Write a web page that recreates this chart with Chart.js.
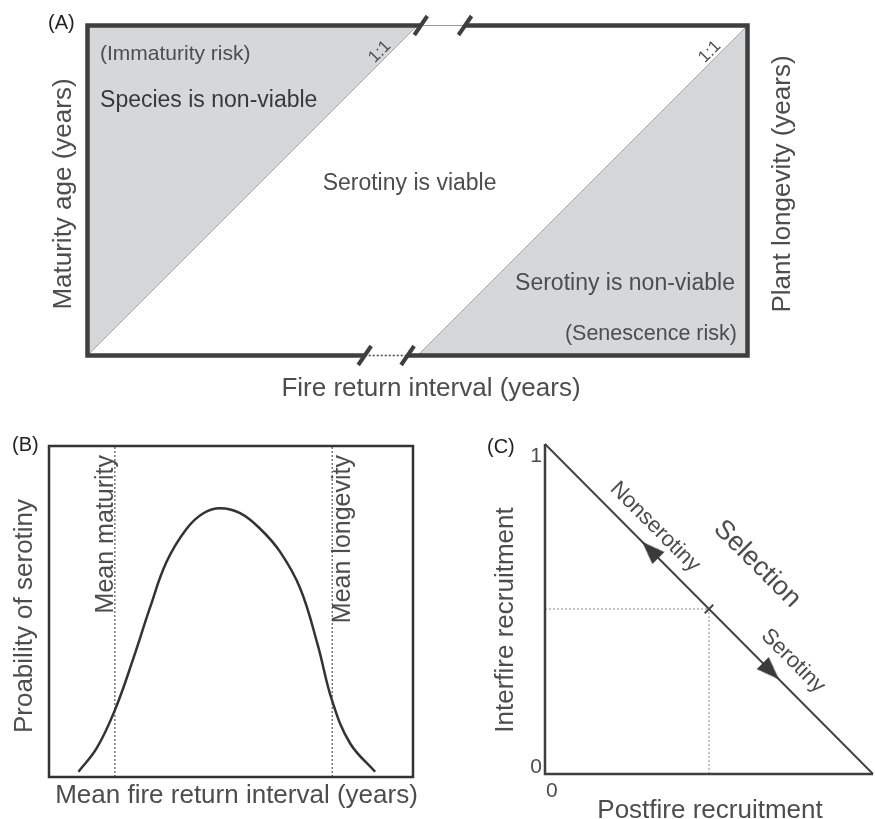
<!DOCTYPE html>
<html>
<head>
<meta charset="utf-8">
<script src="https://cdn.jsdelivr.net/npm/chart.js@4.4.1/dist/chart.umd.min.js"></script>
<style>
  html, body { margin: 0; padding: 0; background: #fff; }
  #wrap { position: relative; width: 875px; height: 819px; }
  #wrap canvas { position: absolute; left: 0; top: 0; }
</style>
</head>
<body>
<div id="wrap">
  <canvas id="panelA" width="875" height="819"></canvas>
  <canvas id="panelB" width="875" height="819"></canvas>
  <canvas id="panelC" width="875" height="819"></canvas>
</div>
<script>
// ---- panel A: viability regions (x = fire interval 0..100, y = age 0..1)
const immaturityX = [0, 50];
const immaturityY = [0, 1];
const senescenceX = [50, 100];
const senescenceY = [0, 1];
const topBreaks = [50.5, 57.2];
const bottomBreaks = [42.0, 48.5];

// ---- panel B: probability of serotiny vs mean fire return interval
const fireInterval = [8.1, 13.1, 18.1, 23.2, 27.7, 32.3, 37.8, 42.4, 47, 52.5, 58, 63.5, 69, 73.8, 77.8, 82.7, 89.6];
const serotinyProb = [0.016, 0.087, 0.202, 0.359, 0.51, 0.65, 0.75, 0.797, 0.812, 0.797, 0.75, 0.68, 0.57, 0.40, 0.23, 0.102, 0.016];
const meanMaturity = 18.1;
const meanLongevity = 77.8;

// ---- panel C: postfire vs interfire recruitment
const recruitTicks = [0, 1];
const tradeoffX = [0, 1];
const tradeoffY = [1, 0];
const balancePoint = { x: 0.5, y: 0.5 };
const arrowX = [0.322, 0.6875];
const arrowAngle = [-45, 135];

const FONT = '"Liberation Sans", Arial, Helvetica, sans-serif';
const TEXT = '#4d4d4d';
const FRAME = '#3f3f3f';
const GREY = '#d6d7d9';

const pts = (xs, ys) => xs.map((x, i) => ({ x, y: ys[i] }));

const txt = (ctx, s, x, y, o = {}) => {
  ctx.save();
  ctx.translate(x, y);
  if (o.rot) ctx.rotate(o.rot * Math.PI / 180);
  ctx.font = (o.size || 22) + 'px ' + FONT;
  ctx.fillStyle = o.color || TEXT;
  ctx.textAlign = o.align || 'center';
  ctx.textBaseline = o.base || 'alphabetic';
  ctx.fillText(s, 0, 0);
  ctx.restore();
};

const baseOptions = (xMax, pad) => ({
  responsive: false,
  animation: false,
  devicePixelRatio: 1,
  events: [],
  layout: { padding: pad, autoPadding: false },
  plugins: { legend: { display: false }, tooltip: { enabled: false } },
  scales: {
    x: { type: 'linear', min: 0, max: xMax, display: false },
    y: { type: 'linear', min: 0, max: 1, display: false }
  }
});

// panel A frame, breaks and labels
const frameA = {
  id: 'frameA',
  afterDatasetsDraw(chart) {
    const { ctx, chartArea: a, scales: { x, y } } = chart;
    const t1 = x.getPixelForValue(topBreaks[0]), t2 = x.getPixelForValue(topBreaks[1]);
    const b1 = x.getPixelForValue(bottomBreaks[0]), b2 = x.getPixelForValue(bottomBreaks[1]);
    ctx.save();
    // gap lines
    ctx.lineWidth = 1;
    ctx.strokeStyle = '#999';
    ctx.beginPath(); ctx.moveTo(t1, a.top); ctx.lineTo(t2, a.top); ctx.stroke();
    ctx.strokeStyle = '#444';
    ctx.lineWidth = 1.5;
    ctx.setLineDash([2, 2]);
    ctx.beginPath(); ctx.moveTo(b1, a.bottom); ctx.lineTo(b2, a.bottom); ctx.stroke();
    ctx.setLineDash([]);
    // thick frame
    ctx.strokeStyle = FRAME;
    ctx.lineWidth = 4.5;
    ctx.lineJoin = 'miter';
    ctx.beginPath();
    ctx.moveTo(t1, a.top); ctx.lineTo(a.left, a.top); ctx.lineTo(a.left, a.bottom); ctx.lineTo(b1, a.bottom);
    ctx.moveTo(t2, a.top); ctx.lineTo(a.right, a.top); ctx.lineTo(a.right, a.bottom); ctx.lineTo(b2, a.bottom);
    ctx.stroke();
    // break marks
    ctx.lineWidth = 4;
    [[t1, a.top], [t2, a.top], [b1, a.bottom], [b2, a.bottom]].forEach(([px, py]) => {
      ctx.beginPath(); ctx.moveTo(px - 6.5, py + 9.5); ctx.lineTo(px + 6.5, py - 9.5); ctx.stroke();
    });
    ctx.restore();

    const X = v => x.getPixelForValue(v), Y = v => y.getPixelForValue(v);
    txt(ctx, '(A)', 48, 29, { size: 20, align: 'left', color: '#222' });
    txt(ctx, '(Immaturity risk)', X(1.9), Y(0.895), { size: 21, align: 'left' });
    txt(ctx, 'Species is non-viable', X(1.9), Y(0.753), { size: 23, align: 'left', color: '#383838' });
    txt(ctx, 'Serotiny is viable', X(48.8), Y(0.502), { size: 23 });
    txt(ctx, 'Serotiny is non-viable', X(98.1), Y(0.198), { size: 23, align: 'right' });
    txt(ctx, '(Senescence risk)', X(98.4), Y(0.047), { size: 21.5, align: 'right' });
    txt(ctx, '1:1', X(44.3), Y(0.92), { size: 17, rot: -45, base: 'middle' });
    txt(ctx, '1:1', X(94.3), Y(0.92), { size: 17, rot: -45, base: 'middle' });
    txt(ctx, 'Fire return interval (years)', 431, a.bottom + 40.5, { size: 26 });
    txt(ctx, 'Maturity age (years)', 71, 194, { size: 26, rot: -90 });
    txt(ctx, 'Plant longevity (years)', 790, 184, { size: 26, rot: -90 });
  }
};

new Chart(document.getElementById('panelA'), {
  type: 'line',
  data: {
    datasets: [
      { data: pts(immaturityX, immaturityY), fill: 'end', backgroundColor: GREY, borderColor: '#a9a9a9', borderWidth: 1, pointRadius: 0 },
      { data: pts(senescenceX, senescenceY), fill: 'start', backgroundColor: GREY, borderColor: '#a9a9a9', borderWidth: 1, pointRadius: 0 }
    ]
  },
  options: baseOptions(100, { left: 87.5, top: 25.5, right: 127.5, bottom: 463.5 }),
  plugins: [frameA]
});

// panel B
const frameB = {
  id: 'frameB',
  afterDatasetsDraw(chart) {
    const { ctx, chartArea: a, scales: { x } } = chart;
    ctx.save();
    ctx.strokeStyle = '#333';
    ctx.lineWidth = 2.5;
    ctx.strokeRect(a.left, a.top, a.right - a.left, a.bottom - a.top);
    ctx.restore();
    txt(ctx, '(B)', 12, 451, { size: 20, align: 'left', color: '#222' });
    txt(ctx, 'Mean maturity', x.getPixelForValue(meanMaturity) - 2, a.top + 9, { size: 25, rot: -90, align: 'right' });
    txt(ctx, 'Mean longevity', x.getPixelForValue(meanLongevity) + 18, a.top + 9, { size: 25, rot: -90, align: 'right' });
    txt(ctx, 'Proability of serotiny', 32, 616, { size: 26, rot: -90 });
    txt(ctx, 'Mean fire return interval (years)', 236.5, 803, { size: 26 });
  }
};

const guide = (xv) => ({
  data: [{ x: xv, y: 0 }, { x: xv, y: 1 }],
  borderColor: '#333', borderWidth: 1, borderDash: [2, 2], pointRadius: 0, fill: false
});

new Chart(document.getElementById('panelB'), {
  type: 'line',
  data: {
    datasets: [
      { data: pts(fireInterval, serotinyProb), borderColor: '#333', borderWidth: 2.5, pointRadius: 0, tension: 0.4, fill: false },
      guide(meanMaturity),
      guide(meanLongevity)
    ]
  },
  options: baseOptions(100, { left: 49, top: 446, right: 462, bottom: 42 }),
  plugins: [frameB]
});

// panel C
const arrowImg = document.createElement('canvas');
arrowImg.width = 26; arrowImg.height = 26;
{
  const g = arrowImg.getContext('2d');
  g.fillStyle = '#3a3a3a';
  g.beginPath(); g.moveTo(13, 1); g.lineTo(21.5, 24); g.lineTo(4.5, 24); g.closePath(); g.fill();
}

const frameC = {
  id: 'frameC',
  afterDatasetsDraw(chart) {
    const { ctx, chartArea: a, scales: { x, y } } = chart;
    ctx.save();
    ctx.strokeStyle = FRAME;
    ctx.lineWidth = 2.5;
    ctx.beginPath(); ctx.moveTo(a.left, a.top); ctx.lineTo(a.left, a.bottom); ctx.lineTo(a.right, a.bottom); ctx.stroke();
    ctx.restore();
    recruitTicks.forEach(v => {
      txt(ctx, String(v), x.getPixelForValue(v) + 1, a.bottom + 23, { size: 21, align: 'left' });
      txt(ctx, String(v), a.left - 3, v === 1 ? y.getPixelForValue(v) + 18 : y.getPixelForValue(v) - 1, { size: 21, align: 'right' });
    });
    txt(ctx, '(C)', 487, 453, { size: 20, align: 'left', color: '#222' });
    txt(ctx, 'Interfire recruitment', 513, 620, { size: 26, rot: -90 });
    txt(ctx, 'Postfire recruitment', 710, 818, { size: 26 });
    txt(ctx, 'Nonserotiny', 655, 527, { size: 22, rot: 45, base: 'middle' });
    txt(ctx, 'Selection', 757, 564, { size: 27, rot: 45, base: 'middle' });
    txt(ctx, 'Serotiny', 793, 661, { size: 22, rot: 45, base: 'middle' });
  }
};

new Chart(document.getElementById('panelC'), {
  type: 'line',
  data: {
    datasets: [
      { data: arrowX.map(v => ({ x: v, y: 1 - v })), showLine: false, pointStyle: arrowImg, pointRotation: arrowAngle, pointRadius: 13, clip: false },
      { data: [balancePoint], showLine: false, pointStyle: 'line', pointRotation: -45, pointRadius: 6, pointBorderWidth: 2, pointBorderColor: '#444', clip: false },
      { data: pts(tradeoffX, tradeoffY), borderColor: '#444', borderWidth: 2, pointRadius: 0, clip: false },
      { data: [{ x: 0, y: balancePoint.y }, balancePoint], borderColor: '#8a8a8a', borderWidth: 1, borderDash: [2, 2], pointRadius: 0 },
      { data: [{ x: balancePoint.x, y: 0 }, balancePoint], borderColor: '#8a8a8a', borderWidth: 1, borderDash: [2, 2], pointRadius: 0 }
    ]
  },
  options: baseOptions(1, { left: 545, top: 444, right: 2, bottom: 45 }),
  plugins: [frameC]
});
</script>
</body>
</html>
